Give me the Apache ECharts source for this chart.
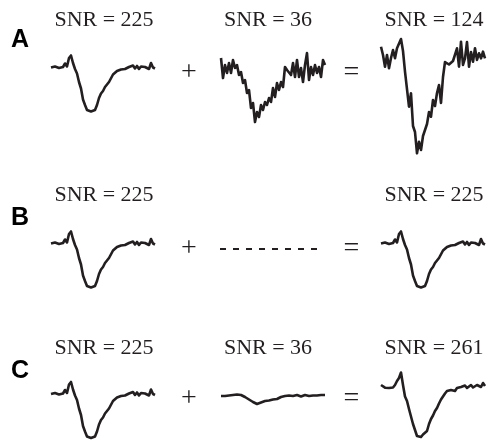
<!DOCTYPE html>
<html>
<head>
<meta charset="utf-8">
<script src="https://cdn.jsdelivr.net/npm/echarts@6/dist/echarts.min.js"></script>
<style>
  html, body { margin: 0; padding: 0; background: #fff; }
  #chart { width: 490px; height: 442px; }
</style>
</head>
<body>
<div id="chart"></div>
<script>
// trace values, relative to each row's baseline (up = positive)
const baseTrace = [0, 2, 1, 2.5, -0.5, 1.5, 0.5, 4, 1, 9.5, 12, 4.5, -1.5, -6, -14.5, -21, -32, -37.5,
  -42.5, -43, -44, -42, -42.5, -37.5, -30.5, -26, -23.5, -19.5, -19, -14.5, -13.5, -7, -8, -3.5,
  -4.5, -2, -4, -1.5, -2.5, 0.5, -0.5, 2, -1, 1.5, -1.5, 1, -0.5, 0.5, -0.5, -1.5, 4.5, 0, -1];
const noisyTrace = [9.5, -10.5, 2.5, -5.5, 4.5, -5.5, 7.5, -0.5, 2.5, -7.5, -4.5, -15.5, -12.5, -25.5, -22.5,
  -40.5, -35.5, -54.5, -44.5, -49.5, -37.5, -42.5, -34.5, -37.5, -30.5, -34.5, -20.5, -29.5, -15.5, -22.5,
  -14.5, -19.5, 0.5, -2.5, -0.5, -7.5, 4.5, -9.5, 7.5, -9.5, -0.5, -14.5, 2.5, 14.5, -12.5, 0.5, -7.5, 2.5,
  -5.5, 0.5, -9.5, 7.5, 2.5];
const sumTraceA = [20.8, 12.5, 0.8, 12.5, -0.8, 9.5, 17.5, 9.2, 19.2, 20.5, 28.5, 16.5, -4.2, -5.8, -39.2,
  -25.8, -58.5, -64.5, -85.8, -74.2, -82.5, -68.5, -66.5, -56.5, -44.5, -49.2, -32.5, -38.5, -25.5, -17.5,
  -35.5, -9.5, 5.5, 4.5, 3, 1.5, 6.5, 5.5, 19.2, 0.8, 25.8, 2.5, 9.2, 25.5, 0.8, 15.5, 5.8, 19.2, 7.5, 14.2,
  9.2, 15.8, 9.2];
const emptyTrace = [-5.5, -5.5];
const weakTrace = [-2, -1, -2, -1, -1.5, -0.5, -1, -1.5, -0.5, 0, -1, -1.5, -3, -4, -5.5, -6.5, -8, -9, -10,
  -9, -8.5, -7.5, -7, -6, -6.5, -5, -5.5, -4.5, -5, -3.5, -3, -3.5, -2, -2.5, -1.5, -2.5, -2, -1.5, -1, -2,
  -2.5, -1.5, -1, -0.5, -2, -1.5, -1.5, -0.5, -1.5, -2, -1, -2, -1];
const sumTraceC = [9, 8, 6.3, 5.5, 6, 7.5, 6.5, 9, 13, 16, 21.5, 9, -2.5, -7, -15, -13, -30, -36, -42, -40,
  -43, -40.5, -39, -37, -30, -25, -21.5, -17, -14, -9.5, -5.5, -2.5, 0.5, 3, 1.5, 4, 5, 3, 6, 5, 7,
  5, 8.5, 6, 7, 9, 6.5, 7, 9, 8, 7, 11, 8];

const rowLabels = ['A', 'B', 'C'];
const snrA = [225, 36, 124];
const snrB = [225, null, 225];
const snrC = [225, 36, 261];
const opLabels = ['+', '='];

const traces = [
  [baseTrace, noisyTrace, sumTraceA],
  [baseTrace, emptyTrace, baseTrace],
  [baseTrace, weakTrace, sumTraceC]
];
const snrs = [snrA, snrB, snrC];

// layout
const rows = [
  { top: 30, height: 135, base: 67.5, title: 20.5, label: 40, op: 73 },
  { top: 215, height: 85, base: 243.5, title: 195.5, label: 218, op: 249 },
  { top: 360, height: 82, base: 394, title: 348.5, label: 371, op: 399 }
];
const cols = [
  { left: 51, width: 104, center: 104 },
  { left: 221, width: 104, center: 268 },
  { left: 381, width: 104, center: 434 }
];
const opX = [189, 351.5];
const ink = '#231f20';

const grid = [], xAxis = [], yAxis = [], series = [], graphic = [];
rows.forEach((row, r) => {
  cols.forEach((col, c) => {
    const data = traces[r][c];
    const dashed = data === emptyTrace;
    const idx = grid.length;
    grid.push({
      left: dashed ? 220 : col.left,
      width: dashed ? 102 : col.width,
      top: row.top,
      height: row.height
    });
    xAxis.push({ gridIndex: idx, type: 'category', boundaryGap: false, show: false,
      data: data.map((v, i) => i) });
    yAxis.push({ gridIndex: idx, type: 'value', show: false,
      min: row.base - (row.top + row.height), max: row.base - row.top });
    series.push({
      type: 'line', xAxisIndex: idx, yAxisIndex: idx, data: data,
      symbol: 'none', silent: true,
      lineStyle: dashed ? { color: ink, width: 1.8, type: [6, 7] }
                        : { color: ink, width: 2.6, join: 'round' }
    });
    if (snrs[r][c] != null) {
      graphic.push({ type: 'text', x: col.center, y: row.title,
        style: { text: 'SNR = ' + snrs[r][c], fill: ink, font: '22px "Liberation Serif"',
          textAlign: 'center', textVerticalAlign: 'middle' } });
    }
  });
  graphic.push({ type: 'text', x: 20, y: row.label,
    style: { text: rowLabels[r], fill: '#000', font: 'bold 25px "Liberation Sans"',
      textAlign: 'center', textVerticalAlign: 'middle' } });
  opLabels.forEach((op, k) => {
    graphic.push({ type: 'text', x: opX[k], y: row.op,
      style: { text: op, fill: ink, font: '28px "Liberation Serif"',
        textAlign: 'center', textVerticalAlign: 'middle' } });
  });
});

const chart = echarts.init(document.getElementById('chart'));
chart.setOption({
  animation: false,
  backgroundColor: '#fff',
  grid, xAxis, yAxis, series, graphic
});
</script>
</body>
</html>
